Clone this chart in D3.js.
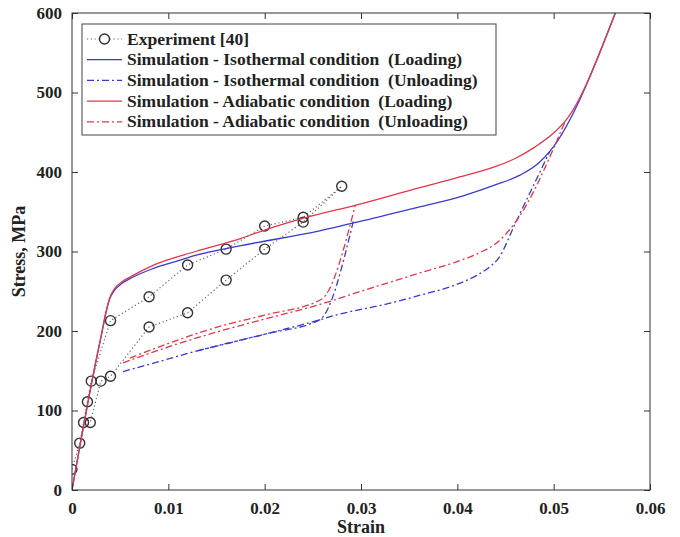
<!DOCTYPE html>
<html>
<head>
<meta charset="utf-8">
<script src="https://cdn.jsdelivr.net/npm/d3@7"></script>
<style>
  body { margin: 0; background: #fff; }
  text { font-family: "Liberation Serif", "Times New Roman", serif; font-weight: bold; fill: #222; white-space: pre; }
</style>
</head>
<body>
<script>
// experiment [40], loading branch then unloading branch
var expLoadStrain = [0, 0.0008, 0.0012, 0.0016, 0.002, 0.004, 0.008, 0.012, 0.016, 0.02, 0.024, 0.028];
var expLoadStress = [26, 59, 85, 111, 137, 213, 243, 283, 303, 332, 343, 382];
var expUnloadStrain = [0.024, 0.02, 0.016, 0.012, 0.008, 0.004, 0.003, 0.0019];
var expUnloadStress = [337, 303, 264, 223, 205, 143, 137, 85];

// isothermal loading
var isoLoadStrain = [0, 0.0025, 0.0031, 0.0035, 0.0039, 0.0044, 0.0052, 0.0062, 0.0083, 0.0112, 0.0128, 0.0174, 0.0257, 0.032, 0.0361, 0.0406, 0.044, 0.0465, 0.0485, 0.0496, 0.0564];
var isoLoadStress = [0, 163, 198, 222, 240, 251, 260, 267, 278, 289, 295, 307, 326, 344, 356, 370, 384, 396, 412, 426, 600];
// isothermal unloading (large and small loop)
var isoUnloadStrain = [0.0053, 0.008, 0.0133, 0.02, 0.0257, 0.0268, 0.0337, 0.0361, 0.0396, 0.042, 0.0434, 0.0443, 0.046, 0.0496];
var isoUnloadStress = [149, 158, 176, 196, 214, 218, 237, 245, 257, 270, 281, 292, 335, 426];
var isoUnload2Strain = [0.013, 0.02, 0.0257, 0.0292];
var isoUnload2Stress = [175, 196, 214, 338];

// adiabatic loading
var adiLoadStrain = [0, 0.0025, 0.0031, 0.0035, 0.0039, 0.0044, 0.0052, 0.0062, 0.0083, 0.0128, 0.0174, 0.02, 0.025, 0.0294, 0.036, 0.04, 0.044, 0.046, 0.048, 0.0499, 0.0512, 0.0564];
var adiLoadStress = [0, 163, 198, 222, 241, 253, 262, 269, 282, 300, 316, 327, 345, 358, 380, 393, 407, 417, 431, 448, 464, 600];
// adiabatic unloading (large and small loop)
var adiUnloadStrain = [0.0053, 0.01, 0.0157, 0.02, 0.0259, 0.03, 0.0337, 0.0361, 0.0406, 0.0424, 0.0441, 0.0458, 0.0512];
var adiUnloadStress = [160, 180, 201, 215, 234, 250, 264, 273, 290, 299, 311, 333, 464];
var adiUnload2Strain = [0.006, 0.0157, 0.02, 0.0259, 0.0294];
var adiUnload2Stress = [166, 207, 220, 240, 358];

var xTicks = [0, 0.01, 0.02, 0.03, 0.04, 0.05, 0.06];
var yTicks = [0, 100, 200, 300, 400, 500, 600];

var legendLabels = ["Experiment [40]",
  "Simulation - Isothermal condition  (Loading)",
  "Simulation - Isothermal condition  (Unloading)",
  "Simulation - Adiabatic condition  (Loading)",
  "Simulation - Adiabatic condition  (Unloading)"];

var width = 680, height = 537;
var margin = {left: 72, right: 30, top: 13, bottom: 47};
var blue = "#3a3ad0", red = "#e4364a", dashdot = "7,3,2,3";

var svg = d3.select("body").append("svg")
    .attr("width", width)
    .attr("height", height);

var x = d3.scaleLinear().domain([0, 0.06]).range([margin.left, width - margin.right]);
var y = d3.scaleLinear().domain([0, 600]).range([height - margin.bottom, margin.top]);

svg.append("clipPath").attr("id", "clip")
  .append("rect")
    .attr("x", x(0)).attr("y", y(600))
    .attr("width", x(0.06) - x(0)).attr("height", y(0) - y(600));

function pairs(xs, ys){
  return xs.map(function(v, i){ return [v, ys[i]]; });
}

var line = d3.line()
    .x(function(d){ return x(d[0]); })
    .y(function(d){ return y(d[1]); })
    .curve(d3.curveMonotoneX);

var plot = svg.append("g").attr("clip-path", "url(#clip)");

// experiment dotted path + circles
var expPts = pairs(expLoadStrain, expLoadStress).concat(pairs(expUnloadStrain, expUnloadStress));
plot.append("path")
    .datum(expPts)
    .attr("fill", "none")
    .attr("stroke", "#666")
    .attr("stroke-width", 1.2)
    .attr("stroke-dasharray", "1.2,2.6")
    .attr("d", d3.line().x(function(d){ return x(d[0]); }).y(function(d){ return y(d[1]); }));

plot.selectAll(".exp")
    .data(expPts)
    .enter()
    .append("circle")
    .attr("class", "exp")
    .attr("cx", function(d){ return x(d[0]); })
    .attr("cy", function(d){ return y(d[1]); })
    .attr("r", 5)
    .attr("fill", "none")
    .attr("stroke", "#333")
    .attr("stroke-width", 1.4);

// simulation curves
var curves = [
  {xs: isoLoadStrain, ys: isoLoadStress, color: blue, dash: null},
  {xs: isoUnloadStrain, ys: isoUnloadStress, color: blue, dash: dashdot},
  {xs: isoUnload2Strain, ys: isoUnload2Stress, color: blue, dash: dashdot},
  {xs: adiLoadStrain, ys: adiLoadStress, color: red, dash: null},
  {xs: adiUnloadStrain, ys: adiUnloadStress, color: red, dash: dashdot},
  {xs: adiUnload2Strain, ys: adiUnload2Stress, color: red, dash: dashdot}
];
curves.forEach(function(c){
  plot.append("path")
      .datum(pairs(c.xs, c.ys))
      .attr("fill", "none")
      .attr("stroke", c.color)
      .attr("stroke-width", 1.3)
      .attr("stroke-dasharray", c.dash)
      .attr("d", line);
});

// axes (box with inward ticks, like matlab)
var axisColor = "#333";
svg.append("rect")
    .attr("x", x(0)).attr("y", y(600))
    .attr("width", x(0.06) - x(0)).attr("height", y(0) - y(600))
    .attr("fill", "none").attr("stroke", axisColor).attr("stroke-width", 1);

var fmtX = function(d){ return d === 0 ? "0" : d3.format(".2f")(d); };

var gx = svg.append("g").attr("transform", "translate(0," + y(0) + ")")
    .call(d3.axisBottom(x).tickValues(xTicks).tickFormat(fmtX).tickSizeInner(-6).tickSizeOuter(0).tickPadding(12));
var gxTop = svg.append("g").attr("transform", "translate(0," + y(600) + ")")
    .call(d3.axisTop(x).tickValues(xTicks).tickFormat("").tickSizeInner(-6).tickSizeOuter(0));
var gy = svg.append("g").attr("transform", "translate(" + x(0) + ",0)")
    .call(d3.axisLeft(y).tickValues(yTicks).tickSizeInner(-6).tickSizeOuter(0).tickPadding(10));
var gyRight = svg.append("g").attr("transform", "translate(" + x(0.06) + ",0)")
    .call(d3.axisRight(y).tickValues(yTicks).tickFormat("").tickSizeInner(-6).tickSizeOuter(0));

[gx, gxTop, gy, gyRight].forEach(function(g){
  g.select(".domain").remove();
  g.selectAll("line").attr("stroke", axisColor);
  g.selectAll("text").attr("font-size", 17).attr("fill", "#222")
      .style("font-family", "'Liberation Serif', serif").style("font-weight", "bold");
});

svg.append("text")
    .attr("x", (x(0) + x(0.06)) / 2)
    .attr("y", 533)
    .attr("text-anchor", "middle")
    .attr("font-size", 18)
    .text("Strain");

svg.append("text")
    .attr("transform", "translate(25," + ((y(0) + y(600)) / 2) + ") rotate(-90)")
    .attr("text-anchor", "middle")
    .attr("font-size", 18)
    .text("Stress, MPa");

// legend
var leg = svg.append("g").attr("transform", "translate(82,24)");
leg.append("rect")
    .attr("width", 414).attr("height", 111)
    .attr("fill", "#fff").attr("stroke", "#444").attr("stroke-width", 1);

var legStyles = [
  {color: "#666", dash: "1.2,2.6", marker: true},
  {color: blue, dash: null},
  {color: blue, dash: dashdot},
  {color: red, dash: null},
  {color: red, dash: dashdot}
];
legendLabels.forEach(function(lbl, i){
  var cy = 15 + i * 20.7;
  var st = legStyles[i];
  leg.append("line")
      .attr("x1", 5).attr("x2", 40).attr("y1", cy).attr("y2", cy)
      .attr("stroke", st.color).attr("stroke-width", st.marker ? 1.2 : 1.3)
      .attr("stroke-dasharray", st.dash);
  if (st.marker) {
    leg.append("circle").attr("cx", 22.5).attr("cy", cy).attr("r", 5)
        .attr("fill", "#fff").attr("stroke", "#333").attr("stroke-width", 1.4);
  }
  leg.append("text")
      .attr("x", 45).attr("y", cy + 5.5)
      .attr("font-size", 17.5)
      .text(lbl);
});
</script>
</body>
</html>
